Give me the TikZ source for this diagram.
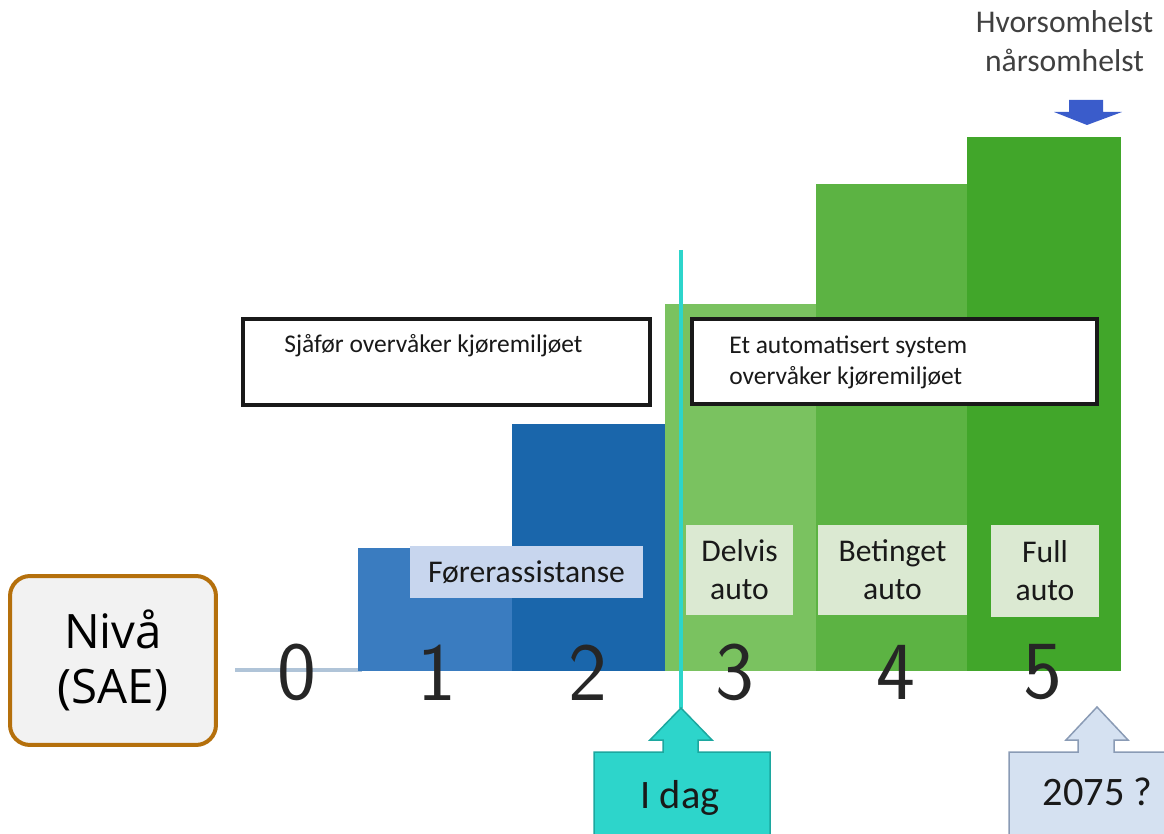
\documentclass[tikz,border=0pt]{standalone}
\usepackage{fontspec}
\setmainfont{Carlito}
\newfontfamily\nivfont{Open Sans}
\usepackage{tikz}
\usetikzlibrary{positioning}                % relative placement

\definecolor{lvlone}{HTML}{3A7CC0}
\definecolor{lvltwo}{HTML}{1A66AB}
\definecolor{lvlthree}{HTML}{7AC260}
\definecolor{lvlfour}{HTML}{5CB343}
\definecolor{lvlfive}{HTML}{41A62A}
\definecolor{todayfill}{HTML}{2DD5CB}
\definecolor{todayline}{HTML}{1CA79F}
\definecolor{futurefill}{HTML}{D5E1F1}
\definecolor{futureline}{HTML}{8A9BB5}
\definecolor{nivbrown}{HTML}{B5700C}
\definecolor{axisgray}{HTML}{B0C4D8}
\definecolor{arrowblue}{HTML}{3A5CCB}
\definecolor{labelgreen}{HTML}{DBE9D2}
\definecolor{labelblue}{HTML}{C8D6EE}

\begin{document}
\begin{tikzpicture}[x=0.02cm, y=-0.02cm,
        lab/.style={font=\fontsize{18}{21.5}\selectfont, text=black!90, align=center, inner sep=0pt},
        num/.style={font=\sffamily\fontsize{47}{47}\selectfont, text=black!85, inner sep=0pt},
        framebox/.style={draw=black!90, line width=0.07cm, fill=white, inner sep=0pt},
        boxtext/.style={font=\fontsize{14.5}{18}\selectfont, text=black!90, align=left, inner sep=0pt},
        calltext/.style={font=\fontsize{23}{26}\selectfont, text=black!90, inner sep=0pt}]
        \useasboundingbox (0,0) rectangle (1164,834);

        % axis and bars
        \draw[axisgray, line width=0.08cm] (235,670) -- (362,670);
        \fill[lvlone]   (358,548) rectangle (512,671);
        \fill[lvltwo]   (512,424) rectangle (665,671);
        \fill[lvlthree] (665,304) rectangle (816,671);
        \fill[lvlfour]  (816,184) rectangle (967,671);
        \fill[lvlfive]  (967,137) rectangle (1121,671);

        % who watches the road
        \node[framebox, minimum width=8.14cm, minimum height=1.72cm] (drvbox) at (446.5,362) {};
        \node[boxtext, anchor=base west] (drvtxt) at (284,353) {Sjåfør overvåker kjøremiljøet};
        \node[framebox, minimum width=8.1cm, minimum height=1.7cm] (sysbox) at (894.5,361.5) {};
        \node[boxtext, anchor=base west] (systxt) at (729,385) {Et automatisert system\\overvåker kjøremiljøet};

        % level labels
        \node[lab, fill=labelblue, minimum width=4.66cm, minimum height=1.04cm] (forer) at (526.5,572) {Førerassistanse};
        \node[lab, fill=labelgreen, minimum width=2.14cm, minimum height=1.8cm] (delvis) at (739.5,570) {Delvis\\auto};
        \node[lab, fill=labelgreen, minimum width=2.98cm, minimum height=1.8cm] (betinget) at (892.5,570) {Betinget\\auto};
        \node[lab, fill=labelgreen, minimum width=2.16cm, minimum height=1.84cm] (full) at (1045,571) {Full\\auto};

        \foreach \n/\x in {0/297,1/437,2/588,3/735,4/896,5/1043}
        {
        \node[num] (n\n) at (\x,672.5) {\n};
        }

        \node[draw=nivbrown, line width=0.08cm, fill=black!5, rounded corners=0.4cm,
              minimum width=4.12cm, minimum height=3.38cm, align=center, inner sep=0pt,
              font=\nivfont\fontsize{27}{31}\selectfont] (nivaa) at (113,660.5) {Nivå\\(SAE)};

        % today
        \coordinate (linetop) at (681,250);
        \coordinate (todaytip) at (681,708);
        \draw[todayfill, line width=0.08cm] (linetop) -- (todaytip);
        \filldraw[fill=todayfill, draw=todayline, line width=0.03cm]
            (todaytip) -- (712,740) -- (698,740) -- (698,752) -- (770,752) -- (770,838)
            -- (594,838) -- (594,752) -- (663,752) -- (663,740) -- (650,740) -- cycle;
        \node[calltext, anchor=base] (idag) at (680,808) {I dag};

        % some day
        \coordinate (futuretip) at (1097,707);
        \filldraw[fill=futurefill, draw=futureline, line width=0.03cm]
            (futuretip) -- (1128,740) -- (1114,740) -- (1114,752) -- (1170,752) -- (1170,838)
            -- (1009,838) -- (1009,752) -- (1078,752) -- (1078,740) -- (1066,740) -- cycle;
        \node[calltext, anchor=base] (year) at (1097.5,805) {2075 ?};

        % anywhere, anytime
        \node[lab, text=black!75, anchor=base, font=\fontsize{18}{22.7}\selectfont] (anyhow) at (1064.5,72) {Hvorsomhelst\\nårsomhelst};
        \fill[arrowblue] (1069,100) -- (1103,100) -- (1103,112) -- (1122,112) -- (1087,125)
            -- (1054,112) -- (1069,112) -- cycle;

    \end{tikzpicture}
\end{document}
